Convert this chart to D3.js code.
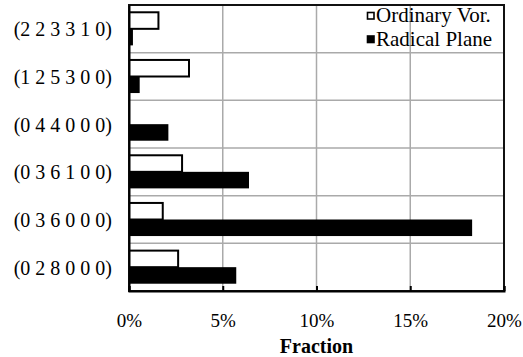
<!DOCTYPE html>
<html><head><meta charset="utf-8">
<script src="https://cdn.jsdelivr.net/npm/d3@7"></script>
</head><body style="margin:0">
<script>
const categories = ["(2 2 3 3 1 0)","(1 2 5 3 0 0)","(0 4 4 0 0 0)","(0 3 6 1 0 0)","(0 3 6 0 0 0)","(0 2 8 0 0 0)"];
const seriesNames = ["Ordinary Vor.","Radical Plane"];
const ordinaryVor = [0.0157,0.0320,0.0,0.0283,0.0180,0.0262];
const radicalPlane = [0.0021,0.0057,0.0210,0.0640,0.1830,0.0572];
const xTicks = [0,0.05,0.10,0.15,0.20];
const xTitle = "Fraction";

const W=523,H=357;
const FONT="Liberation Serif";
const svg=d3.select("body").append("svg").attr("width",W).attr("height",H);
const L=129,R=504,T=5,B=291;
const x=d3.scaleLinear().domain([0,0.20]).range([L,R]);
const y=d3.scaleBand().domain(categories).range([T,B]).paddingInner(0).paddingOuter(0);
const sub=d3.scaleBand().domain(seriesNames).range([0,y.bandwidth()]).paddingInner(0).paddingOuter(0.44);

const g=svg.append("g");
g.selectAll("line.v").data(xTicks.slice(1,-1)).join("line")
 .attr("x1",d=>x(d)).attr("x2",d=>x(d)).attr("y1",T).attr("y2",B)
 .attr("stroke","#aaaaaa").attr("stroke-width",1.5);
g.selectAll("line.h").data(categories.slice(1)).join("line")
 .attr("x1",L).attr("x2",R).attr("y1",d=>y(d)).attr("y2",d=>y(d))
 .attr("stroke","#aaaaaa").attr("stroke-width",1.5);

const data=categories.map((c,i)=>({c,v:[ordinaryVor[i],radicalPlane[i]]}));
const grp=svg.append("g").selectAll("g").data(data).join("g").attr("transform",d=>`translate(0,${y(d.c)})`);
grp.filter(d=>d.v[0]>0).append("rect")
 .attr("x",x(0)).attr("y",sub(seriesNames[0])).attr("height",sub.bandwidth())
 .attr("width",d=>x(d.v[0])-x(0)).attr("fill","#fff").attr("stroke","#000").attr("stroke-width",2);
grp.append("rect")
 .attr("x",x(0)).attr("y",sub(seriesNames[1])).attr("height",sub.bandwidth())
 .attr("width",d=>x(d.v[1])-x(0)).attr("fill","#000");

svg.append("rect").attr("x",L).attr("y",T).attr("width",R-L).attr("height",B-T)
 .attr("fill","none").attr("stroke","#111").attr("stroke-width",2);

const ax=d3.axisBottom(x).tickValues(xTicks).tickSize(-5).tickFormat(d3.format(".0%")).tickPadding(0);
const axg=svg.append("g").attr("transform",`translate(0,${B})`).call(ax);
axg.select(".domain").attr("stroke","#000").attr("stroke-width",2);
axg.selectAll(".tick line").attr("stroke","#000").attr("stroke-width",2);
axg.selectAll(".tick text").attr("y",36).attr("dy",null).attr("fill","#000")
 .attr("font-family",FONT).attr("font-size",19);

const ay=d3.axisLeft(y).tickSize(0).tickPadding(17);
const ayg=svg.append("g").attr("transform",`translate(${L},0)`).call(ay);
ayg.select(".domain").attr("stroke","#000").attr("stroke-width",2);
ayg.selectAll(".tick text").attr("dy",null).attr("y",7.5).attr("fill","#000")
 .attr("font-family",FONT).attr("font-size",20);

svg.append("text").attr("x",(L+R)/2).attr("y",353).attr("text-anchor","middle")
 .attr("font-family",FONT).attr("font-size",20).attr("font-weight","bold").text(xTitle);

const lg=svg.append("g");
const rows=[{n:seriesNames[0],fill:"#fff",y:22},{n:seriesNames[1],fill:"#000",y:45.5}];
rows.forEach(r=>{
  lg.append("rect").attr("x",367.5).attr("y",r.y-9.5).attr("width",6.5).attr("height",6.5)
    .attr("fill",r.fill).attr("stroke","#000").attr("stroke-width",1.6);
  lg.append("text").attr("x",376).attr("y",r.y).attr("font-family",FONT).attr("font-size",21).text(r.n);
});
</script>
</body></html>
